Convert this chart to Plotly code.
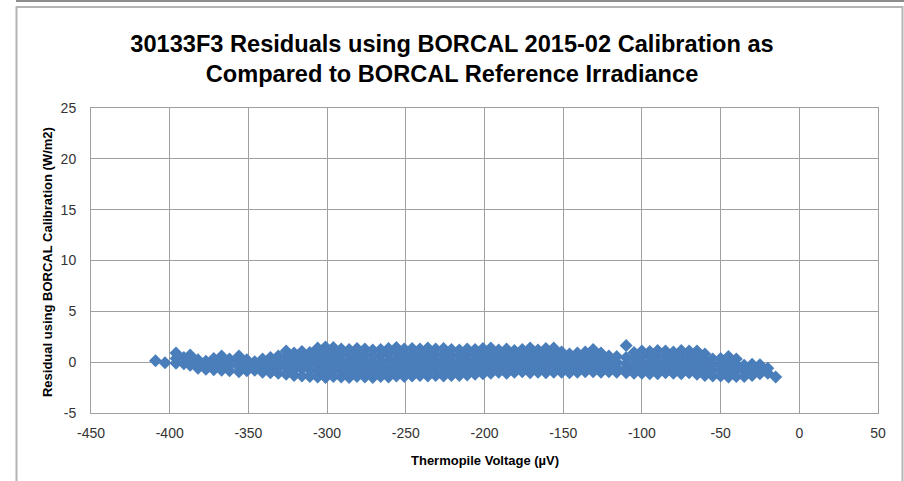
import plotly.graph_objects as go

# ---- data ----
column_voltage = [
    -409, -403, -396, -391, -387, -382, -377, -372, -367, -362,
    -356, -351, -346, -341, -336, -331, -326, -321, -316, -311,
    -306, -301, -296, -291, -286, -281, -276, -271, -266, -261,
    -256, -251, -246, -241, -236, -231, -226, -221, -216, -211,
    -206, -201, -196, -191, -186, -181, -176, -171, -166, -161,
    -156, -151, -146, -141, -136, -131, -126, -121, -116, -110,
    -105, -100, -95, -90, -85, -80, -75, -70, -65, -60,
    -55, -50, -45, -40, -35, -30, -25, -20, -15,
]
column_residuals = [
    [0.15], [-0.05], [0.9, 0.35, -0.1], [0.45, -0.15], [0.7, 0.15, -0.3],
    [0.25, -0.25, -0.6], [0.1, -0.4, -0.7], [0.35, -0.15, -0.75],
    [0.6, 0.05, -0.5, -0.8], [0.3, -0.25, -0.85],
    [0.6, 0.05, -0.45, -0.95], [0.25, -0.3, -0.85], [0.05, -0.45, -0.8],
    [0.3, -0.2, -0.7, -1.0], [0.45, -0.1, -0.6, -1.05], [0.6, 0.05, -0.5, -1.1],
    [1.1, 0.55, 0.0, -0.55, -1.2], [0.9, 0.3, -0.25, -0.8, -1.3],
    [1.05, 0.5, -0.05, -0.6, -1.35], [0.95, 0.35, -0.2, -0.8, -1.4],
    [1.4, 0.8, 0.25, -0.3, -0.9, -1.45], [1.5, 0.95, 0.4, -0.15, -0.7, -1.25, -1.5],
    [1.45, 0.85, 0.3, -0.25, -0.8, -1.4], [1.3, 0.75, 0.2, -0.35, -0.9, -1.45],
    [1.25, 0.7, 0.1, -0.45, -1.0, -1.5], [1.35, 0.8, 0.25, -0.3, -0.85, -1.4],
    [1.3, 0.7, 0.15, -0.4, -0.95, -1.45], [1.2, 0.65, 0.1, -0.45, -1.0, -1.5],
    [1.25, 0.7, 0.15, -0.4, -0.95, -1.4], [1.35, 0.8, 0.2, -0.35, -0.9, -1.45],
    [1.45, 0.9, 0.3, -0.25, -0.8, -1.35], [1.3, 0.75, 0.2, -0.35, -0.9, -1.4],
    [1.35, 0.8, 0.25, -0.3, -0.85, -1.35], [1.3, 0.7, 0.15, -0.4, -0.95, -1.3],
    [1.4, 0.85, 0.3, -0.25, -0.8, -1.35], [1.3, 0.75, 0.2, -0.35, -0.9, -1.3],
    [1.35, 0.8, 0.25, -0.3, -0.85, -1.35], [1.25, 0.7, 0.15, -0.4, -0.95, -1.3],
    [1.2, 0.65, 0.1, -0.45, -1.0, -1.3], [1.3, 0.75, 0.2, -0.35, -0.9, -1.25],
    [1.25, 0.7, 0.15, -0.4, -0.95, -1.2], [1.35, 0.8, 0.25, -0.3, -0.85, -1.15],
    [1.4, 0.85, 0.3, -0.25, -0.8, -1.1], [1.2, 0.65, 0.1, -0.45, -1.0],
    [1.3, 0.75, 0.2, -0.35, -0.9, -1.1], [1.15, 0.6, 0.05, -0.5, -1.0],
    [1.25, 0.7, 0.15, -0.4, -0.95], [1.4, 0.85, 0.3, -0.25, -0.8, -1.05],
    [1.2, 0.65, 0.1, -0.45, -1.0], [1.35, 0.8, 0.25, -0.3, -0.85, -1.05],
    [1.4, 0.85, 0.3, -0.25, -0.8, -1.0], [1.0, 0.45, -0.1, -0.6, -1.0],
    [0.8, 0.25, -0.3, -0.8, -1.05], [0.9, 0.35, -0.2, -0.7, -1.0],
    [1.0, 0.45, -0.1, -0.6, -0.95], [1.25, 0.7, 0.15, -0.4, -0.95],
    [0.9, 0.35, -0.2, -0.75, -1.0], [0.6, 0.05, -0.5, -0.95],
    [0.55, 0.0, -0.55, -1.0], [1.65, 0.45, -0.15, -0.7, -1.05],
    [0.95, 0.35, -0.2, -0.75, -1.1], [1.1, 0.55, 0.0, -0.55, -1.1],
    [1.05, 0.5, -0.05, -0.6, -1.15], [1.15, 0.6, 0.05, -0.45, -0.95, -1.15],
    [1.1, 0.55, 0.0, -0.5, -1.05], [1.0, 0.45, -0.1, -0.65, -1.1],
    [1.15, 0.6, 0.05, -0.45, -0.95, -1.15], [1.1, 0.55, 0.0, -0.5, -1.05],
    [1.1, 0.6, 0.05, -0.45, -1.0, -1.2], [0.8, 0.25, -0.3, -0.85, -1.3],
    [0.3, -0.25, -0.8, -1.35], [0.35, -0.2, -0.75, -1.35],
    [0.55, 0.05, -0.5, -1.05, -1.45], [0.3, -0.25, -0.8, -1.4],
    [-0.3, -0.85, -1.4], [-0.2, -0.7, -1.3], [-0.25, -0.7, -1.15],
    [-0.6, -1.1], [-1.45],
]

x_ticks = [-450, -400, -350, -300, -250, -200, -150, -100, -50, 0, 50]
y_ticks = [-5, 0, 5, 10, 15, 20, 25]

title_text = ("30133F3 Residuals using BORCAL 2015-02 Calibration as<br>"
              "Compared to BORCAL Reference Irradiance")
x_title = "Thermopile Voltage (µV)"
y_title = "Residual using BORCAL Calibration (W/m2)"

# flatten into point lists
voltage = []
residual = []
for v, ys in zip(column_voltage, column_residuals):
    for y in ys:
        voltage.append(v)
        residual.append(y)

fig = go.Figure()
fig.add_trace(go.Scatter(
    x=voltage, y=residual, mode="markers",
    marker=dict(symbol="diamond", size=10, color="#4A7EBB", line=dict(width=0)),
    showlegend=False, hoverinfo="x+y",
))

grid = "#A0A0A0"
tickfont = dict(family="Liberation Sans, Arial, sans-serif", size=14, color="#333333")
fig.update_xaxes(
    range=[-450, 50], tickvals=x_ticks, ticktext=[str(t) for t in x_ticks],
    showgrid=True, gridcolor=grid, gridwidth=1, zeroline=False,
    showline=True, linecolor=grid, linewidth=1, mirror=True,
    ticks="", tickfont=tickfont, ticklabelstandoff=7,
)
fig.update_yaxes(
    range=[-5, 25], tickvals=y_ticks, ticktext=[str(t) for t in y_ticks],
    showgrid=True, gridcolor=grid, gridwidth=1, zeroline=False,
    showline=True, linecolor=grid, linewidth=1, mirror=True,
    ticks="", tickfont=tickfont, ticklabelstandoff=11,
)

boldfont = "Liberation Sans, Arial, sans-serif"
fig.update_layout(
    width=904, height=481,
    margin=dict(l=91, r=26, t=108, b=68, autoexpand=False),
    paper_bgcolor="white", plot_bgcolor="white",
    title=dict(text="<b>" + title_text + "</b>", x=0.5, xref="container",
               y=1 - 51.5 / 481, yref="container", xanchor="center", yanchor="middle",
               font=dict(family=boldfont, size=23.6, color="#000000")),
    annotations=[
        dict(text="<b>" + x_title + "</b>", xref="paper", yref="paper",
             x=0.5, y=-0.157, xanchor="center", yanchor="middle", showarrow=False,
             font=dict(family=boldfont, size=13, color="#000000")),
        dict(text="<b>" + y_title + "</b>", xref="paper", yref="paper",
             x=-0.0559, y=0.495, xanchor="center", yanchor="middle", showarrow=False,
             textangle=-90, font=dict(family=boldfont, size=13, color="#000000")),
    ],
    shapes=[
        # chart-area border
        dict(type="rect", xref="paper", yref="paper",
             x0=(16.5 - 91) / 787, x1=(902.5 - 91) / 787,
             y0=(413 - 495) / 305, y1=(413 - 7) / 305,
             line=dict(color="#B4B4B4", width=2), fillcolor="rgba(0,0,0,0)", layer="below"),
        # top separator line
        dict(type="line", xref="paper", yref="paper",
             x0=(16 - 91) / 787, x1=(910 - 91) / 787,
             y0=(413 - 1) / 305, y1=(413 - 1) / 305,
             line=dict(color="#8C8C8C", width=2)),
    ],
)

fig.write_html("out.html",
               config={"displayModeBar": False},
               post_script="document.body.style.margin='0';document.body.style.overflow='hidden';")
